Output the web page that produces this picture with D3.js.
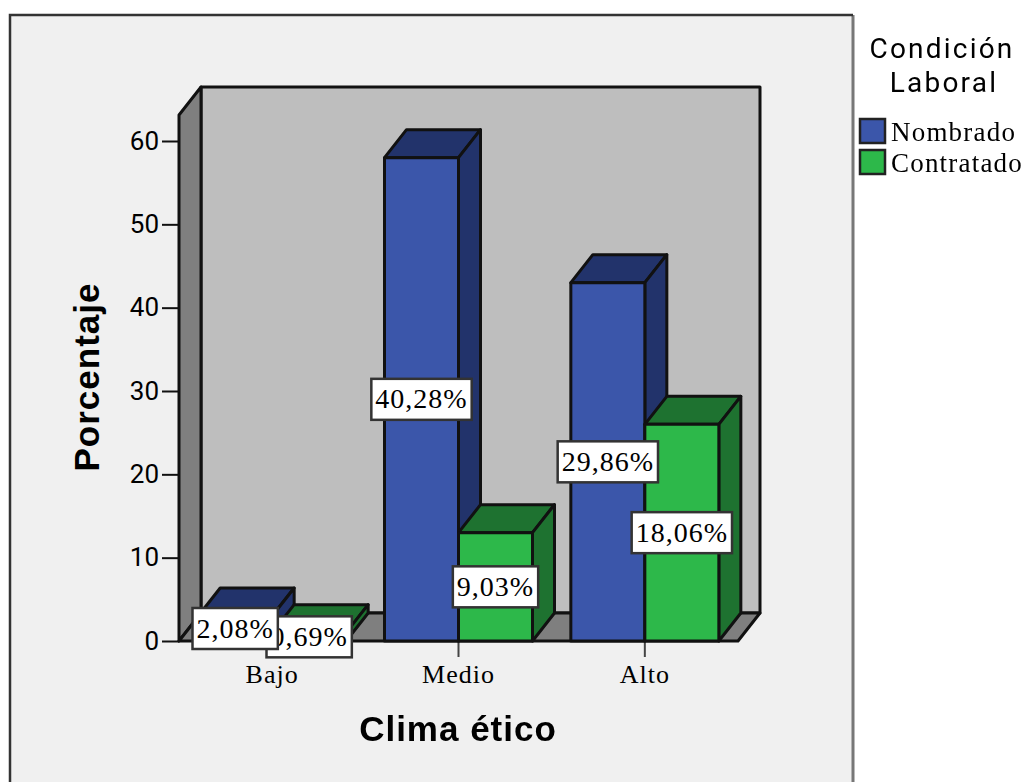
<!DOCTYPE html>
<html>
<head>
<meta charset="utf-8">
<script src="https://cdnjs.cloudflare.com/ajax/libs/d3/7.8.5/d3.min.js"></script>
<style>
  html, body { margin: 0; background: #fff; }
  svg { display: block; filter: blur(0.7px); }
  .tick-y text { font: 26px Roboto, sans-serif; fill: #000; }
  .tick-x text { font: 26px "Liberation Serif", serif; fill: #000; letter-spacing: 1px; }
  .title { font: bold 35px "Liberation Sans", sans-serif; fill: #000; text-anchor: middle; letter-spacing: 1px; }
  .legend-title { font: 400 28px Roboto, sans-serif; fill: #000; text-anchor: middle; letter-spacing: 2.2px; }
  .legend-text { font: 27px "Liberation Serif", serif; fill: #000; letter-spacing: 1.2px; }
  .value { font: 28px "Liberation Serif", serif; fill: #000; text-anchor: middle; letter-spacing: 1px; }
</style>
</head>
<body>
<svg id="chart" width="1028" height="782"></svg>
<script>
// values (bar heights are counts, labels are % of 144)
var categories = ["Bajo", "Medio", "Alto"];
var seriesNames = ["Nombrado", "Contratado"];
var nombrado = [3, 58, 43];
var contratado = [1, 13, 26];
var nombradoLabels = ["2,08%", "40,28%", "29,86%"];
var contratadoLabels = ["0,69%", "9,03%", "18,06%"];
var yTicks = [0, 10, 20, 30, 40, 50, 60];

var frontColors = ["#3B56AA", "#2DB84A"];
var sideColors = ["#22336B", "#1E7230"];
var lineColor = "#111";

var depthX = 22, depthY = -28;
var barWidth = 74;

var svg = d3.select("#chart");

var x = d3.scaleBand().domain(categories).range([179, 738]);
var y = d3.scaleLinear().domain([0, 60]).range([641, 141]);
var yTop = 115;

// outer panel
svg.append("rect").attr("x", 10).attr("y", 15).attr("width", 843).attr("height", 800)
    .attr("fill", "#F0F0F0").attr("stroke", "none");
svg.append("path").attr("d", "M853,15V782").attr("stroke", "#777").attr("stroke-width", 3).attr("fill", "none");
svg.append("path").attr("d", "M10,782V15H853").attr("stroke", "#333").attr("stroke-width", 2.5).attr("fill", "none");

function poly(points) {
    return "M" + points.map(function (p) { return p.join(","); }).join("L") + "Z";
}

var left = x.range()[0], right = x.range()[1];
var walls = svg.append("g").attr("stroke", lineColor).attr("stroke-width", 3).attr("stroke-linejoin", "round");
// back wall
walls.append("path").attr("fill", "#BEBEBE").attr("d", poly([
    [left + depthX, yTop + depthY], [right + depthX, yTop + depthY],
    [right + depthX, y(0) + depthY], [left + depthX, y(0) + depthY]]));
// left wall
walls.append("path").attr("fill", "#7F7F7F").attr("d", poly([
    [left, yTop], [left + depthX, yTop + depthY], [left + depthX, y(0) + depthY], [left, y(0)]]));
// floor
walls.append("path").attr("fill", "#7F7F7F").attr("d", poly([
    [left, y(0)], [left + depthX, y(0) + depthY], [right + depthX, y(0) + depthY], [right, y(0)]]));

// axes
var yAxis = svg.append("g").attr("class", "tick-y").attr("transform", "translate(" + left + ",0)")
    .call(d3.axisLeft(y).tickValues(yTicks).tickSize(17).tickPadding(3));
yAxis.select(".domain").remove();
yAxis.selectAll("line").attr("stroke", lineColor).attr("stroke-width", 2);

var xAxis = svg.append("g").attr("class", "tick-x").attr("transform", "translate(0," + y(0) + ")")
    .call(d3.axisBottom(x).tickSize(16).tickPadding(8));
xAxis.select(".domain").remove();
xAxis.selectAll("line").attr("stroke", "#444").attr("stroke-width", 2);

// bars, one series at a time so the green covers the blue side
var inner = d3.scaleBand().domain(seriesNames).range([-barWidth, barWidth]);
var allValues = [nombrado, contratado];
var allLabels = [nombradoLabels, contratadoLabels];
var labelData = [];

seriesNames.forEach(function (name, s) {
    var g = svg.append("g").attr("stroke", lineColor).attr("stroke-width", 3).attr("stroke-linejoin", "round");
    categories.forEach(function (cat, i) {
        var v = allValues[s][i];
        var x0 = x(cat) + x.bandwidth() / 2 + inner(name);
        var x1 = x0 + inner.bandwidth();
        var top = y(v), bottom = y(0);
        g.append("path").attr("fill", sideColors[s]).attr("d", poly([
            [x0, top], [x0 + depthX, top + depthY], [x1 + depthX, top + depthY], [x1, top]]));
        g.append("path").attr("fill", sideColors[s]).attr("d", poly([
            [x1, top], [x1 + depthX, top + depthY], [x1 + depthX, bottom + depthY], [x1, bottom]]));
        g.append("rect").attr("fill", frontColors[s]).attr("x", x0).attr("y", top)
            .attr("width", x1 - x0).attr("height", bottom - top);
        labelData.push({ text: allLabels[s][i], x: (x0 + x1) / 2, y: (top + bottom) / 2, s: s, i: i });
    });
});

// value boxes: the Contratado ones go first, 2,08% sits on top of 0,69%
labelData.sort(function (a, b) { return b.s - a.s; });
labelData.forEach(function (d) {
    var g = svg.append("g");
    var t = g.append("text").attr("class", "value").attr("x", d.x).attr("y", d.y + 9).text(d.text);
    var w = t.node().getComputedTextLength() + 8;
    g.insert("rect", "text").attr("x", d.x - w / 2).attr("y", d.y - 20.5)
        .attr("width", w).attr("height", 41)
        .attr("fill", "#fff").attr("stroke", "#333").attr("stroke-width", 2.5);
});

// axis titles
svg.append("text").attr("class", "title").attr("transform", "translate(99,377) rotate(-90)").text("Porcentaje");
svg.append("text").attr("class", "title").attr("x", 458).attr("y", 741).text("Clima ético");

// legend
svg.append("text").attr("class", "legend-title").attr("x", 942).attr("y", 58).text("Condición");
svg.append("text").attr("class", "legend-title").attr("x", 944).attr("y", 92).text("Laboral");
var legend = svg.selectAll(".legend-row").data(seriesNames).enter().append("g")
    .attr("class", "legend-row")
    .attr("transform", function (d, i) { return "translate(860," + (119 + i * 31) + ")"; });
legend.append("rect").attr("width", 25).attr("height", 24)
    .attr("fill", function (d, i) { return frontColors[i]; })
    .attr("stroke", "#222").attr("stroke-width", 2.5);
legend.append("text").attr("class", "legend-text").attr("x", 31).attr("y", 22).text(function (d) { return d; });
</script>
</body>
</html>
